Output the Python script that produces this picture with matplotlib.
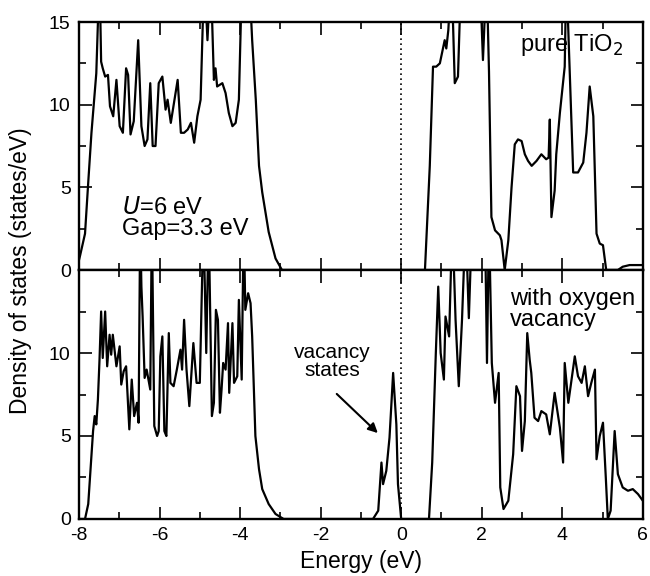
import matplotlib.pyplot as plt
from matplotlib.ticker import MultipleLocator

plt.rcParams['font.family'] = ['Liberation Sans', 'DejaVu Sans']
plt.rcParams['axes.unicode_minus'] = False

# pure TiO2 (values above 15 are clipped by the axis)
e_pure = [-8.0, -7.97, -7.85, -7.77, -7.69, -7.57, -7.49, -7.45, -7.41, -7.35, -7.28,
          -7.23, -7.15, -7.07, -6.99, -6.91, -6.83, -6.78, -6.72, -6.64, -6.53, -6.45,
          -6.37, -6.30, -6.23, -6.17, -6.10, -6.02, -5.93, -5.85, -5.80, -5.72, -5.55,
          -5.47, -5.39, -5.30, -5.22, -5.14, -5.06, -4.98, -4.89, -4.85, -4.81, -4.73,
          -4.65, -4.61, -4.57, -4.44, -4.36, -4.28, -4.19, -4.11, -4.03, -3.95, -3.78,
          -3.70, -3.61, -3.53, -3.45, -3.29, -3.12, -2.96,
          0.0, 0.59, 0.71, 0.79, 0.87, 0.96, 1.08, 1.12, 1.17, 1.25, 1.33, 1.41, 1.49,
          1.95, 2.03, 2.12, 2.18, 2.24, 2.33, 2.45, 2.49, 2.57, 2.66, 2.74, 2.82, 2.90,
          2.99, 3.07, 3.15, 3.24, 3.36, 3.48, 3.60, 3.66, 3.69, 3.73, 3.81, 3.85, 3.94,
          4.06, 4.10, 4.27, 4.39, 4.52, 4.60, 4.68, 4.77, 4.85, 4.93, 5.01, 5.09, 5.38,
          5.50, 5.67, 5.91, 6.0]
dos_pure = [0.6, 0.9, 2.2, 5.3, 8.3, 11.9, 18, 12.6, 12.2, 11.7, 11.8,
            9.9, 9.3, 11.5, 8.7, 8.3, 12.2, 11.8, 8.2, 9.0, 13.9, 8.7,
            7.5, 7.9, 11.3, 7.5, 7.5, 11.3, 11.7, 9.7, 10.3, 8.9, 11.5,
            8.3, 8.3, 8.5, 8.9, 7.7, 9.3, 10.3, 18, 16, 13.9, 18,
            11.5, 12.2, 11.1, 11.3, 10.7, 9.5, 8.7, 8.9, 10.3, 18, 18,
            13.9, 10.3, 6.3, 4.7, 2.3, 0.7, 0.0,
            0.0, 0.0, 6.3, 12.3, 12.3, 12.5, 13.9, 13.4, 14.5, 18, 11.3, 11.7, 18,
            18, 12.7, 18, 12.0, 3.2, 2.4, 2.1, 1.8, 0.0, 1.8, 5.0, 7.6, 7.9,
            7.8, 7.0, 6.6, 6.3, 6.6, 7.0, 6.7, 6.8, 9.1, 3.2, 4.8, 7.0, 9.5,
            12.3, 18, 5.9, 5.9, 6.5, 8.3, 11.1, 9.3, 2.2, 1.6, 1.5, 0.0, 0.0,
            0.2, 0.3, 0.3, 0.3]

# with oxygen vacancy
e_vac = [-8.0, -7.85, -7.77, -7.69, -7.65, -7.61, -7.57, -7.53, -7.49, -7.45, -7.41,
         -7.35, -7.30, -7.24, -7.20, -7.16, -7.07, -6.99, -6.95, -6.89, -6.83, -6.75,
         -6.69, -6.63, -6.56, -6.52, -6.48, -6.45, -6.42, -6.37, -6.32, -6.23, -6.19,
         -6.13, -6.06, -6.02, -5.98, -5.93, -5.88, -5.83, -5.77, -5.73, -5.65, -5.57,
         -5.48, -5.44, -5.39, -5.33, -5.26, -5.16, -5.08, -5.00, -4.91, -4.84, -4.78,
         -4.70, -4.65, -4.60, -4.55, -4.50, -4.46, -4.42, -4.36, -4.30, -4.27, -4.19,
         -4.15, -4.07, -4.03, -3.96, -3.91, -3.87, -3.80, -3.74, -3.70, -3.62, -3.53,
         -3.45, -3.29, -3.12, -2.92,
         -0.70, -0.57, -0.49, -0.45, -0.37, -0.29, -0.20, -0.12, -0.08, 0.0,
         0.69, 0.77, 0.86, 0.92, 0.98, 1.06, 1.10, 1.19, 1.27, 1.35, 1.43, 1.51, 1.60,
         1.68, 1.76, 2.08, 2.13, 2.18, 2.25, 2.33, 2.42, 2.46, 2.54, 2.66, 2.78, 2.86,
         2.95, 3.00, 3.07, 3.13, 3.19, 3.23, 3.31, 3.40, 3.48, 3.60, 3.69, 3.81, 3.94,
         4.02, 4.06, 4.15, 4.31, 4.39, 4.48, 4.56, 4.64, 4.72, 4.81, 4.85, 4.93, 5.01,
         5.08, 5.13, 5.20, 5.30, 5.38, 5.50, 5.63, 5.75, 5.88, 6.0]
dos_vac = [0.0, 0.0, 0.9, 3.8, 5.3, 6.2, 5.7, 7.2, 9.6, 12.5, 9.7,
           12.5, 9.2, 11.1, 9.9, 11.1, 9.2, 10.4, 8.1, 8.9, 9.2, 5.4,
           8.4, 6.2, 7.0, 5.8, 18, 14.0, 12.2, 8.5, 9.0, 7.8, 18,
           5.6, 5.0, 5.3, 9.8, 11.0, 5.3, 5.0, 11.2, 8.2, 8.0, 9.0,
           10.2, 9.0, 12.0, 9.0, 6.8, 10.6, 8.2, 8.2, 18, 10.0, 18,
           6.2, 7.0, 12.6, 12.0, 6.4, 7.8, 9.4, 9.0, 11.8, 7.6, 11.8,
           8.2, 8.6, 13.2, 8.4, 18, 12.6, 13.6, 13.0, 11.0, 5.0, 3.0,
           1.8, 0.9, 0.3, 0.0,
           0.0, 0.5, 3.4, 2.1, 2.9, 4.9, 8.8, 5.7, 2.1, 0.0,
           0.0, 3.4, 10.0, 14.0, 10.0, 8.4, 12.2, 11.0, 18, 12.0, 8.0, 12.0, 18,
           12.1, 18, 18, 9.4, 18, 9.4, 7.0, 8.8, 1.9, 0.6, 1.1, 3.9, 8.0,
           7.4, 4.1, 5.9, 11.2, 9.6, 8.8, 6.1, 5.9, 6.5, 6.3, 5.1, 7.6, 5.5,
           3.4, 9.4, 7.0, 9.8, 8.6, 8.2, 9.2, 7.4, 8.2, 9.0, 3.6, 5.0, 5.8,
           2.5, 0.0, 0.5, 5.3, 2.7, 1.9, 1.7, 1.8, 1.5, 1.1]

fig = plt.figure(figsize=(6.5, 5.76), dpi=100)
ax1 = fig.add_axes([0.1215, 0.5312, 0.8675, 0.4306])
ax2 = fig.add_axes([0.1215, 0.099, 0.8675, 0.4322], sharex=ax1)

for ax, e, d in [(ax1, e_pure, dos_pure), (ax2, e_vac, dos_vac)]:
    ax.plot(e, d, color='black', lw=1.6)
    ax.axvline(0, color='black', lw=1.2, ls=(0, (1, 2)))
    ax.set_xlim(-8, 6)
    ax.set_ylim(0, 15)
    ax.xaxis.set_major_locator(MultipleLocator(2))
    ax.xaxis.set_minor_locator(MultipleLocator(1))
    ax.yaxis.set_major_locator(MultipleLocator(5))
    ax.yaxis.set_minor_locator(MultipleLocator(2.5))
    ax.tick_params(which='both', direction='in', top=True, right=True,
                   labelsize=14, width=1.2)
    ax.tick_params(which='major', length=9, pad=6)
    ax.tick_params(which='minor', length=5)
    for s in ax.spines.values():
        s.set_linewidth(1.7)

ax1.tick_params(labelbottom=False)
ax2.set_yticks([0, 5, 10])
ax2.set_ylim(0, 15)
ax2.set_xlabel('Energy (eV)', fontsize=16.5, labelpad=4)
fig.text(0.032, 0.53, 'Density of states (states/eV)', rotation=90,
         va='center', ha='center', fontsize=16.5)

ax1.text(2.94, 13.6, 'pure TiO$_2$', fontsize=17, va='center')
ax1.text(-6.94, 3.1, '$\\it{U}$=6 eV\nGap=3.3 eV', fontsize=17, va='center',
         linespacing=0.95)
ax2.text(2.69, 12.6, 'with oxygen\nvacancy', fontsize=17, va='center',
         linespacing=0.95)
ax2.text(-1.70, 9.5, 'vacancy\nstates', fontsize=15, ha='center', va='center',
         linespacing=0.95)
ax2.annotate('', xy=(-0.53, 5.06), xytext=(-1.65, 7.65),
             arrowprops=dict(arrowstyle='-|>', color='black', lw=1.5,
                             mutation_scale=14))

fig.savefig('out.png', dpi=100)
